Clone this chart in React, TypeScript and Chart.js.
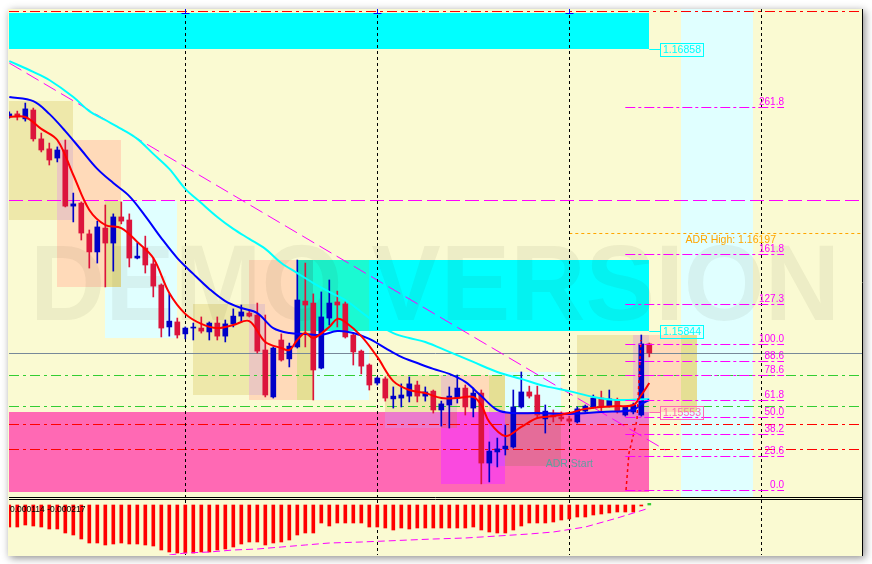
import React, { useEffect, useRef } from "react";
import { Chart, registerables } from "chart.js";

Chart.register(...registerables);

// ---------------- data ----------------
const candleOpen = [
  1.16618, 1.16626, 1.16608, 1.1664, 1.16536, 1.165, 1.16467, 1.16496, 1.16294, 1.16305,
  1.16194, 1.16129, 1.16215, 1.16161, 1.16255, 1.16244, 1.16107, 1.16143, 1.16086, 1.1601,
  1.15859, 1.15877, 1.15834, 1.15855, 1.15855, 1.15841, 1.15873, 1.15826, 1.1587, 1.15898,
  1.15909, 1.15902, 1.15776, 1.15607, 1.15812, 1.15744, 1.15787, 1.15952, 1.15945, 1.15711,
  1.15891, 1.15949, 1.15942, 1.1583, 1.15772, 1.15722, 1.15657, 1.15672, 1.156, 1.15603,
  1.1561, 1.1565, 1.1561, 1.15628, 1.1556, 1.15578, 1.15603, 1.15639, 1.15567, 1.15621,
  1.15369, 1.15409, 1.1542, 1.15427, 1.15571, 1.15625, 1.15614, 1.15528, 1.15542, 1.15535,
  1.15528, 1.15517, 1.15556, 1.15571, 1.15603, 1.15574, 1.15596, 1.15542, 1.15553, 1.15542,
  1.15798,
];
const candleHigh = [
  1.16633, 1.16636, 1.16665, 1.16647, 1.16557, 1.16521, 1.16507, 1.16532, 1.16341, 1.16309,
  1.16208, 1.1624, 1.16298, 1.16266, 1.16309, 1.16266, 1.16161, 1.16186, 1.16107, 1.16014,
  1.15978, 1.15891, 1.15859, 1.15873, 1.15895, 1.15877, 1.15895, 1.15884, 1.15924, 1.15938,
  1.1592, 1.15945, 1.15902, 1.15787, 1.15834, 1.15801, 1.161, 1.16089, 1.15978, 1.15985,
  1.16028, 1.15988, 1.15949, 1.15837, 1.15776, 1.15726, 1.15679, 1.15679, 1.15643, 1.15654,
  1.15679, 1.15664, 1.15643, 1.15632, 1.15592, 1.15643, 1.15686, 1.1565, 1.15639, 1.15632,
  1.15445, 1.15459, 1.15506, 1.15632, 1.15697, 1.15646, 1.15646, 1.15578, 1.1556, 1.15553,
  1.15538, 1.15571, 1.15578, 1.15614, 1.15628, 1.15632, 1.15603, 1.15574, 1.15585, 1.1583,
  1.15801,
];
const candleLow = [
  1.16611, 1.16604, 1.166, 1.16528, 1.16489, 1.16442, 1.16453, 1.16291, 1.16237, 1.16172,
  1.16071, 1.16089, 1.16003, 1.1606, 1.1623, 1.16075, 1.16104, 1.16053, 1.15967, 1.15823,
  1.15826, 1.15819, 1.15816, 1.15812, 1.15837, 1.15812, 1.15812, 1.15805, 1.15859, 1.15877,
  1.15895, 1.15765, 1.15607, 1.15603, 1.15736, 1.15715, 1.15783, 1.15787, 1.15596, 1.15708,
  1.15866, 1.15859, 1.15819, 1.15722, 1.1569, 1.15632, 1.1565, 1.15592, 1.15567, 1.15571,
  1.15589, 1.15589, 1.15592, 1.15549, 1.15502, 1.15495, 1.15585, 1.15542, 1.15535, 1.15294,
  1.15301, 1.15355, 1.15398, 1.15423, 1.15567, 1.15603, 1.15535, 1.15477, 1.15517, 1.1552,
  1.15513, 1.15513, 1.15553, 1.15567, 1.15553, 1.15571, 1.15549, 1.15538, 1.15546, 1.15538,
  1.15751,
];
const candleClose = [
  1.16626, 1.16615, 1.16644, 1.16536, 1.16496, 1.1646, 1.16496, 1.16294, 1.16302, 1.16197,
  1.16129, 1.16219, 1.16161, 1.16255, 1.1624, 1.16107, 1.16114, 1.16082, 1.16006, 1.15855,
  1.1588, 1.1583, 1.15855, 1.15857, 1.15844, 1.15873, 1.15826, 1.1587, 1.15898, 1.15913,
  1.15898, 1.15772, 1.15614, 1.15783, 1.1574, 1.1579, 1.15956, 1.15938, 1.15704, 1.15895,
  1.15945, 1.15938, 1.15823, 1.15769, 1.15718, 1.1565, 1.15675, 1.15603, 1.1561, 1.15614,
  1.15654, 1.1561, 1.15625, 1.1556, 1.15582, 1.1561, 1.15639, 1.15571, 1.15621, 1.15369,
  1.15412, 1.1542, 1.1543, 1.15571, 1.15625, 1.1561, 1.15542, 1.15556, 1.15535, 1.15528,
  1.1552, 1.15564, 1.15574, 1.15603, 1.15574, 1.156, 1.15556, 1.15571, 1.15578, 1.15798,
  1.15765,
];

// moving averages (bar index, price)
const fastMaIdx = [0, 2, 4, 6, 8, 10, 12, 14, 16, 18, 20, 22, 24, 26, 28, 30, 32, 34, 35, 36, 37, 38, 40, 41, 42, 44, 46, 48, 50, 52, 54, 56, 58, 59, 60, 62, 64, 66, 68, 70, 72, 74, 76, 78, 79, 80];
const fastMaVal = [1.16615, 1.16615, 1.16572, 1.16532, 1.16406, 1.1628, 1.16226, 1.16215, 1.16165, 1.16107, 1.15981, 1.15906, 1.1587, 1.15855, 1.15866, 1.1588, 1.15805, 1.15783, 1.15776, 1.15812, 1.15837, 1.15819, 1.15859, 1.15888, 1.15877, 1.15826, 1.15751, 1.15664, 1.15632, 1.15621, 1.15603, 1.15603, 1.15607, 1.15578, 1.15517, 1.15466, 1.15499, 1.15531, 1.15538, 1.15549, 1.15564, 1.15571, 1.15574, 1.15578, 1.15614, 1.15657];
const midMaIdx = [0, 3, 5, 7, 9, 11, 13, 15, 17, 19, 21, 23, 25, 27, 29, 31, 33, 35, 37, 39, 41, 43, 45, 47, 49, 51, 53, 55, 57, 59, 61, 63, 66, 70, 74, 78, 79, 80];
const midMaVal = [1.16687, 1.16672, 1.16626, 1.16564, 1.16496, 1.16428, 1.16377, 1.1633, 1.16258, 1.16179, 1.16107, 1.1605, 1.15996, 1.15952, 1.15927, 1.15909, 1.15855, 1.15837, 1.15834, 1.1583, 1.15844, 1.15837, 1.15816, 1.15783, 1.15751, 1.15729, 1.15708, 1.1569, 1.15661, 1.1561, 1.1556, 1.15549, 1.15549, 1.15546, 1.15553, 1.1556, 1.15582, 1.15596];
const slowMaIdx = [0, 3, 5, 8, 10, 12, 14, 16, 18, 20, 22, 24, 26, 28, 30, 32, 34, 36, 38, 40, 42, 44, 46, 48, 50, 52, 55, 58, 61, 64, 67, 70, 73, 76, 80];
const slowMaVal = [1.16816, 1.16777, 1.16748, 1.16687, 1.16636, 1.16604, 1.16572, 1.16536, 1.16482, 1.16428, 1.16356, 1.16305, 1.16255, 1.16212, 1.16176, 1.1614, 1.16089, 1.16053, 1.16017, 1.15985, 1.15956, 1.15913, 1.1587, 1.15837, 1.15819, 1.15805, 1.15769, 1.15733, 1.15697, 1.15672, 1.15646, 1.15628, 1.15607, 1.15596, 1.156];

// oscillator
const oscHist = [
  -0.00154, -0.00154, -0.0014, -0.00147, -0.00154, -0.00168, -0.00168, -0.00196, -0.0021, -0.00238,
  -0.00266, -0.00266, -0.0028, -0.00273, -0.00266, -0.00273, -0.00273, -0.0028, -0.00287, -0.00315,
  -0.00329, -0.00336, -0.00336, -0.00336, -0.00329, -0.00329, -0.00315, -0.00308, -0.00294, -0.00273,
  -0.00259, -0.00259, -0.0028, -0.00266, -0.00259, -0.00245, -0.0021, -0.00196, -0.00196, -0.00126,
  -0.00147, -0.00126, -0.00126, -0.00126, -0.00126, -0.00154, -0.00154, -0.00161, -0.00175, -0.00161,
  -0.00168, -0.00161, -0.00161, -0.00161, -0.00161, -0.00161, -0.00161, -0.00161, -0.00154, -0.00175,
  -0.00189, -0.00196, -0.00196, -0.00175, -0.00147, -0.00126, -0.00126, -0.00126, -0.00119, -0.00105,
  -0.00098, -0.00084, -0.00084, -0.0007, -0.00063, -0.00056, -0.00049, -0.00049, -0.00049, -0.00007,
  0.000114,
];
const oscSignalIdx = [20, 22, 25, 28, 31, 34, 37, 40, 44, 47, 50, 53, 57, 61, 65, 68, 72, 76, 80];
const oscSignalVal = [-0.0035, -0.00336, -0.00329, -0.00315, -0.00308, -0.00294, -0.0028, -0.00266, -0.00259, -0.00252, -0.00245, -0.00238, -0.00231, -0.00217, -0.00203, -0.00189, -0.00154, -0.00091, -0.000217];

// session / zone rectangles
const zoneStart = [-1, 6, 12, 23, 30, 36, 47, 54, 60, 71, 78, 84, -1, 36, -1];
const zoneEnd = [8, 14, 21, 32, 38, 45, 56, 62, 69, 80, 86, 93, 80, 80, 80];
const zoneHigh = [1.16672, 1.16532, 1.16312, 1.15942, 1.161, 1.161, 1.15686, 1.15686, 1.15697, 1.1583, 1.1583, 1.1702, 1.16991, 1.161, 1.15553];
const zoneLow = [1.16244, 1.16003, 1.15819, 1.15614, 1.15596, 1.15596, 1.15495, 1.15294, 1.15358, 1.15506, 1.15553, 1.1523, 1.16858, 1.15844, 1.15265];
const zoneColor = ["#EEE8AA", "#FFDAB9", "#E0FFFF", "#EEE8AA", "#FFDAB9", "#E0FFFF", "#EEE8AA", "#FFDAB9", "#E0FFFF", "#EEE8AA", "#FFDAB9", "#E0FFFF", "#00FFFF", "#00FFFF", "#FF69B4"];

// horizontal levels
const levelPrice = [1.16997, 1.16316, 1.15686, 1.15574, 1.1551, 1.1542];
const levelColor = ["#FF0000", "#FF00FF", "#32CD32", "#32CD32", "#FF0000", "#FF0000"];
const levelStyle = ["dashdot", "dash", "dashdot", "dashdot", "dashdot", "dashdot"];
const adrHigh = 1.16197;
const adrStartIdx = 70;
const adrStartLabelIdx = 67.06;
const adrStartLabelPrice = 1.15367;

// trend line
const trendIdx = [0, 82];
const trendPrice = [1.16809, 1.15416];

// fibonacci
const fibLevels = [0, 23.6, 38.2, 50, 61.8, 78.6, 88.6, 100, 127.3, 161.8, 261.8];
const fibZeroPrice = 1.15272;
const fibHundredPrice = 1.15798;
const fibStartIdx = 77;
const fibEndIdx = 96.84;

// ADR start path
const adrPathIdx = [77.09, 77.46, 78.46, 78.96];
const adrPathPrice = [1.15272, 1.15405, 1.15524, 1.15812];

// price tags
const tagPrice = [1.16858, 1.15844, 1.15553];
const tagColor = ["#00FFFF", "#00FFFF", "#FF69B4"];
const tagFromIdx = 80;

// day separators
const separatorIdx = [22, 46, 70, 94];

// ---------------- helpers ----------------
const BG = "#FAFAD2";
const FONT = '"Liberation Sans", Arial, sans-serif';
const X_MIN = -0.0375;
const X_MAX = 106.5875;

const hex = (h: string) => [
  parseInt(h.slice(1, 3), 16),
  parseInt(h.slice(3, 5), 16),
  parseInt(h.slice(5, 7), 16),
];
const crisp = (v: number) => Math.round(v) + 0.5;
const dashOf = (s: string) =>
  s === "dashdot" ? [10, 4, 3, 4] : s === "dash" ? [14, 5] : s === "dot" ? [3, 3] : [];

function seg(ctx: any, x0: number, y0: number, x1: number, y1: number, color: string, width: number, dash: number[]) {
  ctx.save();
  ctx.strokeStyle = color;
  ctx.lineWidth = width;
  ctx.setLineDash(dash);
  ctx.beginPath();
  ctx.moveTo(x0, y0);
  ctx.lineTo(x1, y1);
  ctx.stroke();
  ctx.restore();
}

const idx = candleOpen.map((_, i) => i);
const BULL = "#0000C8";
const BEAR = "#DC143C";
const candleColors = idx.map((i) => (candleClose[i] >= candleOpen[i] ? BULL : BEAR));

// ---------------- plugins ----------------
const mainDecor = {
  id: "mainDecor",
  beforeDraw(chart: any) {
    const { ctx, chartArea: a } = chart;
    const xs = chart.scales.x;
    const ys = chart.scales.y;
    ctx.save();
    ctx.fillStyle = "#ffffff";
    ctx.fillRect(0, 0, chart.width, chart.height);
    ctx.shadowColor = "rgba(0,0,0,0.45)";
    ctx.shadowBlur = 8;
    ctx.shadowOffsetX = 2;
    ctx.shadowOffsetY = 2;
    ctx.fillStyle = BG;
    ctx.fillRect(a.left - 1, a.top, a.width + 2, 556 - a.top);
    ctx.restore();
    ctx.fillStyle = BG;
    ctx.fillRect(a.left, a.top, a.width, a.height);

    // zones drawn in XOR mode like the terminal does
    const L = Math.round(a.left);
    const T = Math.round(a.top);
    const W = Math.round(a.right) - L;
    const H = Math.round(a.bottom) - T;
    const img = ctx.getImageData(L, T, W, H);
    const d = img.data;
    const [br, bgc, bb] = hex(BG);
    const cl = (v: number, m: number) => Math.max(0, Math.min(m, v));
    for (let i = 0; i < zoneStart.length; i++) {
      const x0 = cl(Math.round(xs.getPixelForValue(zoneStart[i])) - L, W);
      const x1 = cl(Math.round(xs.getPixelForValue(zoneEnd[i])) - L, W);
      const y0 = cl(Math.round(ys.getPixelForValue(zoneHigh[i])) - T, H);
      const y1 = cl(Math.round(ys.getPixelForValue(zoneLow[i])) - T, H);
      const [cr, cg, cb] = hex(zoneColor[i]);
      const xr = cr ^ br, xg = cg ^ bgc, xb = cb ^ bb;
      for (let y = y0; y < y1; y++) {
        for (let x = x0; x < x1; x++) {
          const p = (y * W + x) * 4;
          d[p] ^= xr;
          d[p + 1] ^= xg;
          d[p + 2] ^= xb;
        }
      }
    }
    ctx.putImageData(img, L, T);
  },
  beforeDatasetsDraw(chart: any) {
    const { ctx, chartArea: a } = chart;
    const xs = chart.scales.x;
    const ys = chart.scales.y;
    ctx.save();
    ctx.beginPath();
    ctx.rect(a.left, a.top, a.width, a.height);
    ctx.clip();

    // watermark
    ctx.save();
    ctx.font = `bold 107px ${FONT}`;
    ctx.textBaseline = "alphabetic";
    const text = "DEMO VERSION";
    const tw = ctx.measureText(text).width;
    ctx.translate(30, 320);
    ctx.scale(810 / tw, 1);
    ctx.fillStyle = "rgba(60,60,30,0.065)";
    ctx.fillText(text, 0, 0);
    ctx.restore();

    // horizontal levels
    levelPrice.forEach((p, i) => {
      const y = crisp(ys.getPixelForValue(p));
      seg(ctx, a.left, y, a.right, y, levelColor[i], 1, dashOf(levelStyle[i]));
    });
    // bid line at last close
    const bidY = crisp(ys.getPixelForValue(candleClose[candleClose.length - 1]));
    seg(ctx, a.left, bidY, a.right, bidY, "#778899", 1, []);
    // ADR high
    const adrY = crisp(ys.getPixelForValue(adrHigh));
    seg(ctx, xs.getPixelForValue(adrStartIdx), adrY, a.right, adrY, "#FFA500", 1, [3, 3]);

    // trend line
    seg(
      ctx,
      xs.getPixelForValue(trendIdx[0]),
      ys.getPixelForValue(trendPrice[0]),
      xs.getPixelForValue(trendIdx[1]),
      ys.getPixelForValue(trendPrice[1]),
      "#FF00FF",
      1,
      [14, 6]
    );

    // day separators
    separatorIdx.forEach((k, i) => {
      const x = crisp(xs.getPixelForValue(k));
      if (i < 3) seg(ctx, x, a.top, x, a.bottom, "#0000FF", 1, [2, 4]);
      seg(ctx, x, a.top, x, a.bottom, "#000000", 1, [3, 3]);
      if (i < 3) {
        seg(ctx, x - 4, a.top + 4.5, x + 4, a.top + 4.5, "#0000FF", 1, []);
        seg(ctx, x, a.top, x, a.top + 5, "#0000FF", 1, []);
      }
    });
    ctx.restore();
  },
  afterDatasetsDraw(chart: any) {
    const { ctx, chartArea: a } = chart;
    const xs = chart.scales.x;
    const ys = chart.scales.y;
    ctx.save();
    ctx.beginPath();
    ctx.rect(a.left, a.top, a.width, a.height);
    ctx.clip();

    // ADR start path
    ctx.save();
    ctx.strokeStyle = "#FF0000";
    ctx.lineWidth = 1.5;
    ctx.setLineDash([3, 3]);
    ctx.beginPath();
    adrPathIdx.forEach((k, i) => {
      const x = xs.getPixelForValue(k);
      const y = ys.getPixelForValue(adrPathPrice[i]);
      if (i === 0) ctx.moveTo(x, y);
      else ctx.lineTo(x, y);
    });
    ctx.stroke();
    ctx.restore();

    // fibonacci levels
    const fx0 = xs.getPixelForValue(fibStartIdx);
    const fx1 = xs.getPixelForValue(fibEndIdx);
    ctx.font = `10px ${FONT}`;
    ctx.textAlign = "right";
    ctx.textBaseline = "alphabetic";
    fibLevels.forEach((lv) => {
      const p = fibZeroPrice + (lv / 100) * (fibHundredPrice - fibZeroPrice);
      const y = crisp(ys.getPixelForValue(p));
      seg(ctx, fx0, y, fx1, y, "#FF00FF", 1, [10, 3, 3, 3]);
      ctx.fillStyle = "#FF00FF";
      ctx.fillText(lv.toFixed(1), fx1, y - 2.5);
    });

    // price tags
    ctx.font = `10.5px ${FONT}`;
    ctx.textAlign = "center";
    ctx.textBaseline = "middle";
    tagPrice.forEach((p, i) => {
      const y = crisp(ys.getPixelForValue(p));
      const xb = xs.getPixelForValue(tagFromIdx);
      const bx = Math.round(xb + 11) + 0.5;
      seg(ctx, xb, y, bx, y, tagColor[i], 1, []);
      ctx.strokeStyle = tagColor[i];
      ctx.lineWidth = 1;
      ctx.strokeRect(bx, y - 6, 43, 13);
      ctx.fillStyle = tagColor[i];
      ctx.fillText(p.toFixed(5), bx + 21.5, y + 1);
    });

    // ADR labels
    ctx.font = `10.5px ${FONT}`;
    ctx.textAlign = "right";
    ctx.textBaseline = "middle";
    ctx.fillStyle = "#FFA500";
    ctx.fillText(`ADR High: ${adrHigh.toFixed(5)}`, xs.getPixelForValue(95.84), ys.getPixelForValue(adrHigh) + 7);
    ctx.textAlign = "left";
    ctx.fillStyle = "#5F9EA0";
    ctx.fillText("ADR Start", xs.getPixelForValue(adrStartLabelIdx), ys.getPixelForValue(adrStartLabelPrice));
    ctx.restore();
  },
};

const oscDecor = {
  id: "oscDecor",
  beforeDraw(chart: any) {
    const { ctx, chartArea: a } = chart;
    ctx.fillStyle = BG;
    ctx.fillRect(a.left, a.top, a.width, a.height);
  },
  beforeDatasetsDraw(chart: any) {
    const { ctx, chartArea: a } = chart;
    const xs = chart.scales.x;
    separatorIdx.forEach((k) => {
      const x = crisp(xs.getPixelForValue(k));
      seg(ctx, x, a.top, x, a.bottom, "#000000", 1, [3, 3]);
    });
  },
  afterDraw(chart: any) {
    const { ctx, chartArea: a } = chart;
    ctx.save();
    ctx.font = `8.5px ${FONT}`;
    ctx.textAlign = "left";
    ctx.textBaseline = "alphabetic";
    ctx.fillStyle = "#000000";
    const last = oscHist[oscHist.length - 1];
    const sig = oscSignalVal[oscSignalVal.length - 1];
    ctx.fillText(`${last.toFixed(6)} ${sig.toFixed(6)}`, a.left + 1, a.top + 12);
    ctx.restore();
    // panel frame
    seg(ctx, a.left, a.top - 0.5, a.right, a.top - 0.5, "#000000", 1, []);
    seg(ctx, a.left, a.top - 2.5, a.right, a.top - 2.5, "#000000", 1, []);
    seg(ctx, a.right + 0.5, 9, a.right + 0.5, a.bottom + 1, "#000000", 1, []);
  },
};

export default function App() {
  const mainRef = useRef<HTMLCanvasElement>(null);
  const oscRef = useRef<HTMLCanvasElement>(null);

  useEffect(() => {
    const main = new Chart(mainRef.current as HTMLCanvasElement, {
      type: "bar",
      data: {
        datasets: [
          {
            type: "line",
            data: fastMaIdx.map((k, i) => ({ x: k, y: fastMaVal[i] })),
            borderColor: "#FF0000",
            borderWidth: 2,
            pointRadius: 0,
            tension: 0.35,
            order: 1,
          } as any,
          {
            type: "line",
            data: midMaIdx.map((k, i) => ({ x: k, y: midMaVal[i] })),
            borderColor: "#0000FF",
            borderWidth: 2,
            pointRadius: 0,
            tension: 0.35,
            order: 2,
          } as any,
          {
            type: "line",
            data: slowMaIdx.map((k, i) => ({ x: k, y: slowMaVal[i] })),
            borderColor: "#00FFFF",
            borderWidth: 2,
            pointRadius: 0,
            tension: 0.35,
            order: 3,
          } as any,
          {
            type: "bar",
            data: idx.map((k) => ({ x: k, y: [candleOpen[k], candleClose[k]] })),
            backgroundColor: candleColors,
            barThickness: 5,
            minBarLength: 1,
            grouped: false,
            order: 4,
          } as any,
          {
            type: "bar",
            data: idx.map((k) => ({ x: k, y: [candleLow[k], candleHigh[k]] })),
            backgroundColor: candleColors,
            barThickness: 1,
            grouped: false,
            order: 5,
          } as any,
        ],
      },
      options: {
        responsive: false,
        animation: false,
        devicePixelRatio: 1,
        layout: { padding: { left: 9, top: 9, right: 10, bottom: 67 } },
        plugins: { legend: { display: false }, tooltip: { enabled: false } },
        scales: {
          x: { type: "linear", min: X_MIN, max: X_MAX, display: false, offset: false, grid: { display: false } },
          y: { type: "linear", min: 1.152468, max: 1.170036, display: false, grid: { display: false } },
        },
      } as any,
      plugins: [mainDecor],
    });

    const osc = new Chart(oscRef.current as HTMLCanvasElement, {
      type: "bar",
      data: {
        datasets: [
          {
            type: "line",
            data: oscSignalIdx.map((k, i) => ({ x: k, y: oscSignalVal[i] })),
            borderColor: "#FF00FF",
            borderWidth: 1,
            borderDash: [7, 4],
            pointRadius: 0,
            order: 1,
          } as any,
          {
            type: "bar",
            data: idx.map((k) => ({ x: k, y: oscHist[k] })),
            backgroundColor: oscHist.map((v) => (v >= 0 ? "#32CD32" : "#FF0000")),
            barThickness: 3,
            grouped: false,
            order: 2,
          } as any,
        ],
      },
      options: {
        responsive: false,
        animation: false,
        devicePixelRatio: 1,
        layout: { padding: { left: 9, top: 500, right: 10, bottom: 9 } },
        plugins: { legend: { display: false }, tooltip: { enabled: false } },
        scales: {
          x: { type: "linear", min: X_MIN, max: X_MAX, display: false, offset: false, grid: { display: false } },
          y: { type: "linear", min: -0.0035, max: 0.00035, display: false, grid: { display: false } },
        },
      } as any,
      plugins: [oscDecor],
    });

    return () => {
      main.destroy();
      osc.destroy();
    };
  }, []);

  return (
    <div style={{ position: "fixed", left: 0, top: 0, width: 872, height: 564, background: "#ffffff", overflow: "hidden" }}>
      <canvas ref={mainRef} width={872} height={564} style={{ position: "absolute", left: 0, top: 0, width: 872, height: 564 }} />
      <canvas ref={oscRef} width={872} height={564} style={{ position: "absolute", left: 0, top: 0, width: 872, height: 564 }} />
    </div>
  );
}
